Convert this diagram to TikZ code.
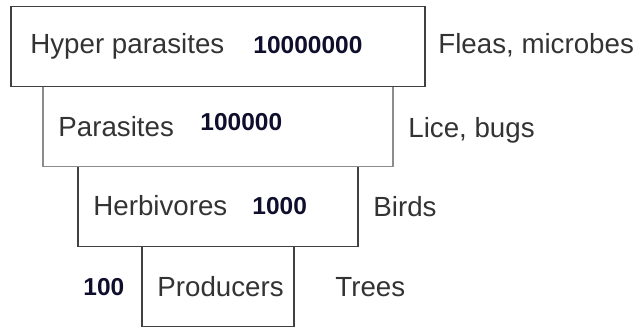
\documentclass[tikz,border=0pt]{standalone}
\usepackage{fontspec}
\setmainfont{Liberation Sans}
\usetikzlibrary{positioning}
\definecolor{boxgray}{gray}{0.25}
\definecolor{lightbox}{gray}{0.55}
\definecolor{textgray}{gray}{0.2}
\definecolor{numblue}{RGB}{15,15,45}
\tikzstyle{tier} = [draw=boxgray, line width=0.75pt, minimum height=40pt, inner sep=0pt, outer sep=0pt]
\tikzstyle{tiername} = [anchor=base west, inner sep=0pt, text=textgray, font=\fontsize{13.85}{16}\selectfont]
\tikzstyle{tiernum} = [anchor=base west, inner sep=0pt, text=numblue, font=\bfseries\fontsize{12.25}{14}\selectfont]

\begin{document}
\begin{tikzpicture}[x=0.5pt,y=-0.5pt]
\useasboundingbox (0,0) rectangle (638,327);

% Draw the boxes, bottom one first
\node[tier, minimum width=76pt, anchor=south] (prod) at (218,326.5) {};
\node[tier, minimum width=140pt, above=0pt of prod] (herb) {};
\node[tier, minimum width=175pt, above=0pt of herb, draw=lightbox] (para) {};
\node[tier, minimum width=207pt, above=0pt of para] (hyper) {};

% Put in level names
\foreach \x/\y/\lbl/\txt in {30/53/hyperlbl/{Hyper parasites},
                             58/136/paralbl/{Parasites},
                             93/215/herblbl/{Herbivores},
                             157/296/prodlbl/{Producers}}
    \node[tiername] (\lbl) at (\x,\y) {\txt};

% Put in numbers
\foreach \x/\y/\lbl/\num in {253/53/hypernum/10000000,
                             200/130/paranum/100000,
                             252/214/herbnum/1000,
                             83/295/prodnum/100}
    \node[tiernum] (\lbl) at (\x,\y) {\num};

% Add examples on the right
\foreach \x/\y/\lbl/\txt in {438/53/fleas/{Fleas, microbes},
                             408/137/lice/{Lice, bugs},
                             373/216/birds/{Birds},
                             335/296/trees/{Trees}}
    \node[tiername] (\lbl) at (\x,\y) {\txt};

\end{tikzpicture}
\end{document}
